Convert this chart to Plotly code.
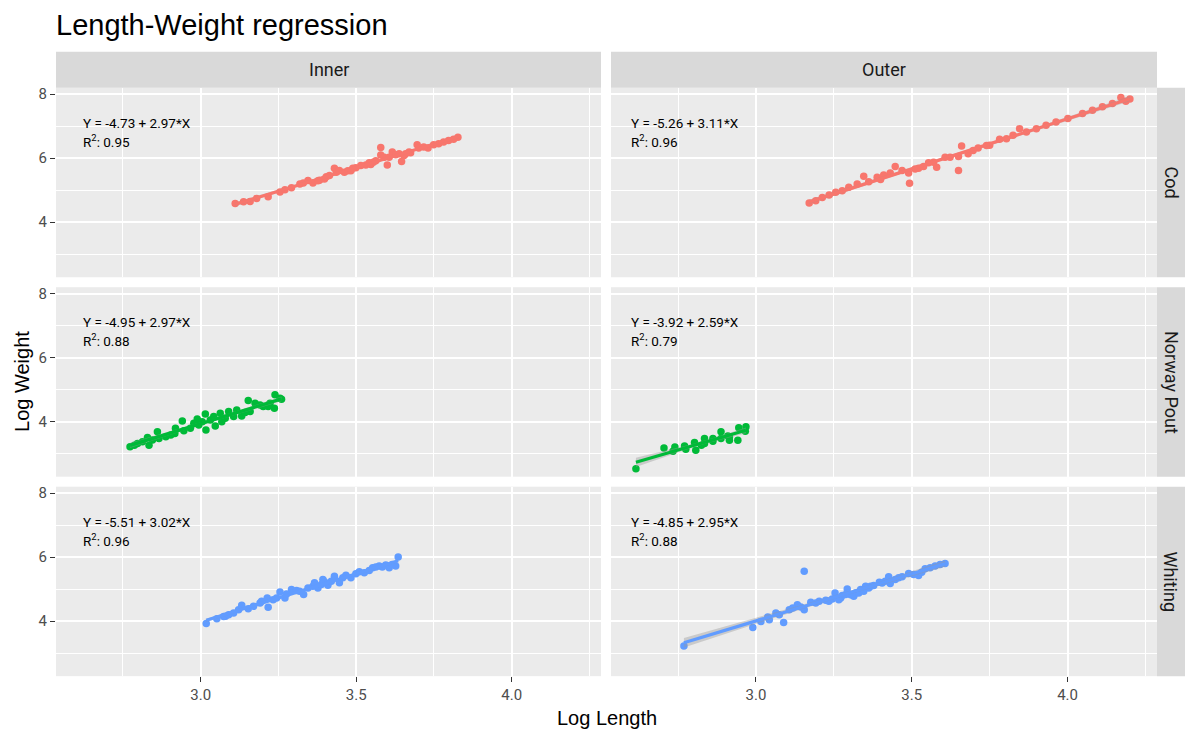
import numpy as np
import plotly.graph_objects as go

# ---------------- data ----------------
species = ["Cod", "Norway Pout", "Whiting"]
areas = ["Inner", "Outer"]
colors = ["#F8766D", "#00BA38", "#619CFF"]

cod_inner_len = [3.111, 3.159, 3.217, 3.255, 3.292, 3.330, 3.345, 3.361, 3.382, 3.398, 3.404, 3.430, 3.436,
                 3.462, 3.473, 3.483, 3.499, 3.515, 3.531, 3.547, 3.555, 3.563, 3.579, 3.579, 3.600, 3.606,
                 3.616, 3.638, 3.646, 3.654, 3.659, 3.675, 3.696, 3.701, 3.731, 3.765, 3.797, 3.827,
                 3.138, 3.180, 3.271, 3.319, 3.377, 3.414, 3.446, 3.489, 3.542, 3.590, 3.627, 3.670,
                 3.717, 3.749, 3.781, 3.813]
cod_inner_wt = [4.586, 4.650, 4.795, 4.940, 5.078, 5.225, 5.300, 5.225, 5.310, 5.350, 5.420, 5.686, 5.560,
                5.560, 5.610, 5.610, 5.700, 5.770, 5.790, 5.800, 5.875, 5.920, 6.336, 6.100, 5.790, 6.030,
                6.190, 6.137, 5.896, 6.085, 6.140, 6.170, 6.420, 6.315, 6.315, 6.450, 6.556, 6.650,
                4.638, 4.743, 5.015, 5.194, 5.298, 5.456, 5.613, 5.686, 5.854, 6.032, 6.106, 6.190,
                6.347, 6.420, 6.504, 6.588]

cod_outer_len = [3.171, 3.192, 3.235, 3.277, 3.325, 3.346, 3.362, 3.400, 3.431, 3.447, 3.469, 3.490, 3.493,
                 3.522, 3.538, 3.554, 3.580, 3.607, 3.650, 3.650, 3.660, 3.681, 3.713, 3.750, 3.782, 3.804,
                 3.846, 3.868, 3.931, 4.001, 4.048, 4.112, 4.171, 4.187, 4.200,
                 3.213, 3.256, 3.298, 3.389, 3.410, 3.511, 3.570, 3.623, 3.697, 3.740, 3.825, 3.900,
                 3.963, 4.080, 4.144]
cod_outer_wt = [4.596, 4.670, 4.848, 4.984, 5.194, 5.435, 5.267, 5.330, 5.540, 5.739, 5.613, 5.540, 5.215,
                5.686, 5.739, 5.854, 5.720, 6.032, 5.613, 6.053, 6.378, 6.137, 6.315, 6.400, 6.588, 6.609,
                6.923, 6.820, 7.030, 7.238, 7.395, 7.605, 7.898, 7.780, 7.846,
                4.774, 4.932, 5.089, 5.403, 5.477, 5.665, 5.875, 6.032, 6.242, 6.399, 6.714, 6.923,
                7.133, 7.500, 7.710]

pout_inner_len = [2.773, 2.797, 2.829, 2.834, 2.861, 2.866, 2.888, 2.917, 2.919, 2.941, 2.946, 2.967, 2.989,
                  2.994, 3.015, 3.017, 3.031, 3.042, 3.047, 3.063, 3.068, 3.090, 3.106, 3.116, 3.132, 3.153,
                  3.159, 3.175, 3.191, 3.217, 3.237, 3.239, 3.255, 3.260,
                  2.787, 2.813, 2.845, 2.904, 2.978, 3.005, 3.079, 3.143, 3.201, 3.223]
pout_inner_wt = [3.213, 3.318, 3.507, 3.266, 3.685, 3.475, 3.528, 3.633, 3.790, 4.020, 3.716, 3.790, 4.083,
                 3.894, 4.240, 3.737, 4.052, 4.157, 3.863, 4.261, 4.000, 4.314, 4.157, 4.366, 4.178, 4.660,
                 4.314, 4.576, 4.523, 4.471, 4.419, 4.838, 4.733, 4.700,
                 3.266, 3.370, 3.423, 3.580, 3.947, 4.000, 4.104, 4.282, 4.471, 4.576]

pout_outer_len = [2.615, 2.705, 2.734, 2.771, 2.775, 2.803, 2.807, 2.835, 2.835, 2.862, 2.888, 2.888, 2.910,
                  2.915, 2.942, 2.945, 2.966, 2.968, 2.740, 2.825, 2.862, 2.915]
pout_outer_wt = [2.530, 3.178, 3.073, 3.241, 3.140, 3.346, 3.105, 3.471, 3.314, 3.388, 3.681, 3.471, 3.555,
                 3.419, 3.419, 3.807, 3.702, 3.838, 3.209, 3.262, 3.471, 3.524]

whit_inner_len = [3.018, 3.052, 3.080, 3.106, 3.132, 3.153, 3.191, 3.214, 3.217, 3.244, 3.255, 3.271, 3.292,
                  3.308, 3.331, 3.361, 3.366, 3.377, 3.393, 3.409, 3.430, 3.446, 3.467, 3.483, 3.510, 3.526,
                  3.553, 3.574, 3.595, 3.606, 3.627, 3.635,
                  3.074, 3.090, 3.122, 3.170, 3.196, 3.233, 3.276, 3.318, 3.345, 3.388, 3.398, 3.420,
                  3.457, 3.499, 3.542, 3.563, 3.584, 3.616]
whit_inner_wt = [3.926, 4.073, 4.150, 4.251, 4.492, 4.387, 4.566, 4.723, 4.429, 4.723, 4.912, 4.723, 4.985,
                 4.953, 4.828, 5.090, 5.195, 5.037, 5.300, 5.121, 5.404, 5.195, 5.436, 5.352, 5.540, 5.509,
                 5.666, 5.719, 5.750, 5.666, 5.719, 6.000,
                 4.146, 4.199, 4.356, 4.461, 4.618, 4.670, 4.849, 4.932, 5.037, 5.142, 5.226, 5.247,
                 5.352, 5.478, 5.582, 5.687, 5.687, 5.771]

whit_outer_len = [2.769, 2.990, 3.016, 3.038, 3.064, 3.089, 3.107, 3.133, 3.155, 3.155, 3.176, 3.203, 3.224,
                  3.245, 3.254, 3.272, 3.277, 3.293, 3.304, 3.320, 3.336, 3.352, 3.368, 3.396, 3.426, 3.431,
                  3.469, 3.490, 3.522, 3.543, 3.575, 3.607,
                  3.192, 3.234, 3.266, 3.288, 3.314, 3.330, 3.346, 3.362, 3.378, 3.405, 3.415, 3.447,
                  3.458, 3.506, 3.532, 3.559, 3.591, 3.043, 3.075, 3.118, 3.144]
whit_outer_wt = [3.224, 3.800, 3.989, 4.125, 4.251, 3.957, 4.356, 4.513, 5.561, 4.356, 4.586, 4.618, 4.649,
                 4.691, 4.880, 4.722, 4.796, 5.006, 4.827, 4.880, 4.985, 5.090, 5.090, 5.215, 5.383, 5.173,
                 5.383, 5.488, 5.425, 5.635, 5.718, 5.802,
                 4.565, 4.618, 4.670, 4.828, 4.775, 4.880, 4.932, 5.037, 5.110, 5.194, 5.247, 5.300,
                 5.351, 5.456, 5.530, 5.666, 5.771, 4.041, 4.198, 4.408, 4.440]

eq_labels = [["Y = -4.73 + 2.97*X", "Y = -5.26 + 3.11*X"],
             ["Y = -4.95 + 2.97*X", "Y = -3.92 + 2.59*X"],
             ["Y = -5.51 + 3.02*X", "Y = -4.85 + 2.95*X"]]
r2_labels = [["0.95", "0.96"], ["0.88", "0.79"], ["0.96", "0.88"]]

x_ticks = [3.0, 3.5, 4.0]
y_ticks = [4, 6, 8]

panels = [[(cod_inner_len, cod_inner_wt), (cod_outer_len, cod_outer_wt)],
          [(pout_inner_len, pout_inner_wt), (pout_outer_len, pout_outer_wt)],
          [(whit_inner_len, whit_inner_wt), (whit_outer_len, whit_outer_wt)]]

# ---------------- layout geometry ----------------
W, H = 1185, 731
col_px = [(56, 601), (611, 1157)]
row_px = [(86, 276), (286, 476), (486, 676)]
strip_top_px = (50, 86)
strip_right_px = (1157, 1185)

XR = [2.535, 4.287]
YR = [2.28, 8.2]

fig = go.Figure()
layout = dict(width=W, height=H, margin=dict(l=0, r=0, t=0, b=0),
              paper_bgcolor="white", plot_bgcolor="#EBEBEB", showlegend=False)
shapes = []
annotations = []

tick_font = dict(family="Roboto, Arial, sans-serif", size=15, color="#4D4D4D")
eq_font = dict(family="Roboto, Arial, sans-serif", size=13.5, color="black")

for r in range(3):
    for c in range(2):
        k = r * 2 + c + 1
        xa = "x" if k == 1 else f"x{k}"
        ya = "y" if k == 1 else f"y{k}"
        xkey = "xaxis" if k == 1 else f"xaxis{k}"
        ykey = "yaxis" if k == 1 else f"yaxis{k}"
        x0, x1 = col_px[c]
        yt, yb = row_px[r]
        layout[xkey] = dict(
            domain=[x0 / W, x1 / W], anchor=ya, range=XR,
            tickvals=x_ticks, ticktext=[f"{v:.1f}" for v in x_ticks],
            showticklabels=(r == 2), ticks="outside" if r == 2 else "",
            ticklen=5, tickcolor="#333333", tickwidth=1.2,
            tickfont=tick_font, showgrid=True, gridcolor="white", gridwidth=1.6,
            zeroline=False, showline=False,
            minor=dict(dtick=0.25, tick0=0, showgrid=True, gridcolor="white", gridwidth=0.8),
        )
        layout[ykey] = dict(
            domain=[1 - yb / H, 1 - yt / H], anchor=xa, range=YR,
            tickvals=y_ticks, ticktext=[str(v) for v in y_ticks],
            showticklabels=(c == 0), ticks="outside" if c == 0 else "",
            ticklen=5, tickcolor="#333333", tickwidth=1.2,
            tickfont=tick_font, showgrid=True, gridcolor="white", gridwidth=1.6,
            zeroline=False, showline=False,
            minor=dict(dtick=1, tick0=0, showgrid=True, gridcolor="white", gridwidth=0.8),
        )

        lx, wy = panels[r][c]
        xs = np.array(lx, dtype=float)
        ys = np.array(wy, dtype=float)
        col = colors[r]

        fig.add_trace(go.Scatter(x=xs, y=ys, mode="markers", xaxis=xa, yaxis=ya,
                                 marker=dict(size=7.5, color=col, line=dict(width=0)),
                                 hoverinfo="x+y"))

        # linear fit with 95% confidence band (as geom_smooth(method='lm'))
        n = len(xs)
        b, a = np.polyfit(xs, ys, 1)
        resid = ys - (a + b * xs)
        s = np.sqrt(np.sum(resid ** 2) / (n - 2))
        xbar = xs.mean()
        sxx = np.sum((xs - xbar) ** 2)
        gx = np.linspace(xs.min(), xs.max(), 80)
        gy = a + b * gx
        se = s * np.sqrt(1.0 / n + (gx - xbar) ** 2 / sxx)
        tq = 2.01
        up = gy + tq * se
        lo = gy - tq * se
        fig.add_trace(go.Scatter(x=np.concatenate([gx, gx[::-1]]), y=np.concatenate([up, lo[::-1]]),
                                 mode="lines", fill="toself", fillcolor="rgba(153,153,153,0.4)",
                                 line=dict(width=0), xaxis=xa, yaxis=ya, hoverinfo="skip"))
        fig.add_trace(go.Scatter(x=gx, y=gy, mode="lines", xaxis=xa, yaxis=ya,
                                 line=dict(color=col, width=3.2), hoverinfo="skip"))

        # equation labels
        xoff = 0.046 if c == 0 else 0.033
        annotations.append(dict(xref=f"{xa} domain", yref=f"{ya} domain", x=xoff, y=1 - 35 / 190,
                                text=eq_labels[r][c], showarrow=False, xanchor="left", yanchor="middle",
                                font=eq_font))
        annotations.append(dict(xref=f"{xa} domain", yref=f"{ya} domain", x=xoff, y=1 - 53 / 190,
                                text=f"R<sup>2</sup>: {r2_labels[r][c]}", showarrow=False,
                                xanchor="left", yanchor="middle", font=eq_font))

# strips on top
strip_font = dict(family="Roboto, Arial, sans-serif", size=18, color="#1A1A1A")
for c in range(2):
    x0, x1 = col_px[c]
    shapes.append(dict(type="rect", xref="paper", yref="paper", x0=x0 / W, x1=x1 / W,
                       y0=1 - strip_top_px[1] / H, y1=1 - strip_top_px[0] / H,
                       fillcolor="#D9D9D9", line=dict(width=0), layer="below"))
    annotations.append(dict(xref="paper", yref="paper", x=(x0 + x1) / 2 / W,
                            y=1 - (strip_top_px[0] + strip_top_px[1]) / 2 / H,
                            text=areas[c], showarrow=False, font=strip_font,
                            xanchor="center", yanchor="middle"))
# strips on right
for r in range(3):
    yt, yb = row_px[r]
    shapes.append(dict(type="rect", xref="paper", yref="paper", x0=strip_right_px[0] / W, x1=strip_right_px[1] / W,
                       y0=1 - yb / H, y1=1 - yt / H, fillcolor="#D9D9D9", line=dict(width=0), layer="below"))
    annotations.append(dict(xref="paper", yref="paper", x=(strip_right_px[0] + strip_right_px[1]) / 2 / W,
                            y=1 - (yt + yb) / 2 / H, text=species[r], showarrow=False, textangle=90,
                            font=strip_font, xanchor="center", yanchor="middle"))

# axis titles
title_family = "Liberation Sans, Arial, sans-serif"
annotations.append(dict(xref="paper", yref="paper", x=(col_px[0][0] + col_px[1][1]) / 2 / W, y=1 - 718 / H,
                        text="Log Length", showarrow=False, xanchor="center", yanchor="middle",
                        font=dict(family=title_family, size=20, color="black")))
annotations.append(dict(xref="paper", yref="paper", x=22 / W, y=1 - (row_px[0][0] + row_px[2][1]) / 2 / H,
                        text="Log Weight", showarrow=False, textangle=-90, xanchor="center", yanchor="middle",
                        font=dict(family=title_family, size=20, color="black")))

layout["title"] = dict(text="Length-Weight regression", x=56 / W, xanchor="left", xref="paper",
                       y=1 - 25 / H, yanchor="middle", yref="container",
                       font=dict(family=title_family, size=29, color="black"))
layout["shapes"] = shapes
layout["annotations"] = annotations
fig.update_layout(**layout)

fig.write_html("out.html")
